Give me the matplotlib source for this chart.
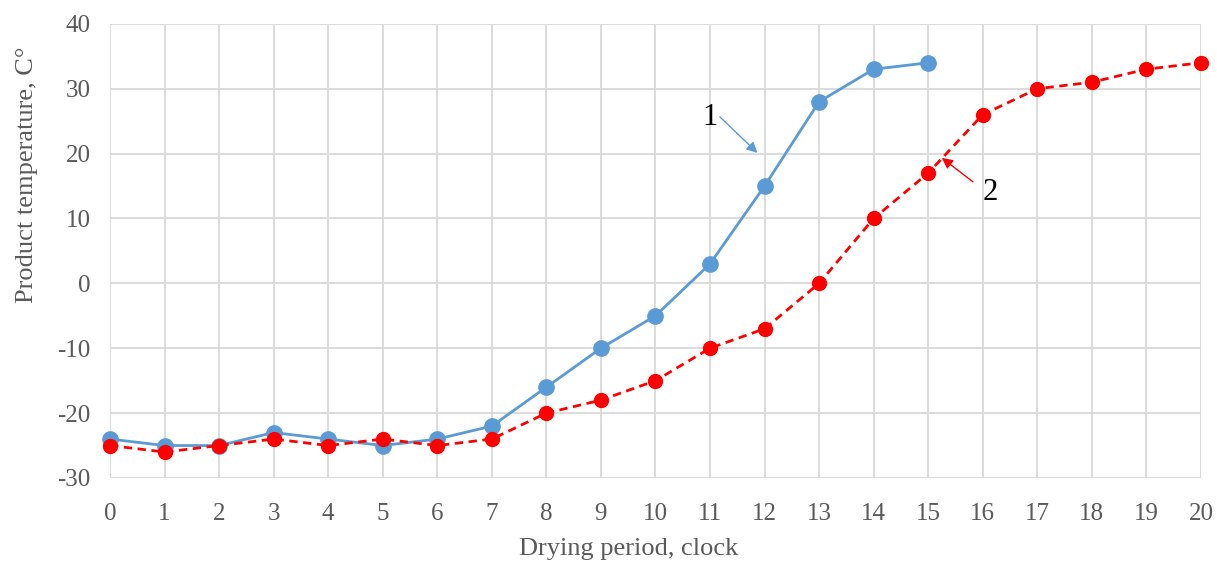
import matplotlib.pyplot as plt

# Data
hours_1 = list(range(0, 16))
temp_1 = [-24, -25, -25, -23, -24, -25, -24, -22, -16, -10, -5, 3, 15, 28, 33, 34]

hours_2 = list(range(0, 21))
temp_2 = [-25, -26, -25, -24, -25, -24, -25, -24, -20, -18, -15, -10, -7, 0, 10, 17,
          26, 30, 31, 33, 34]

plt.rcParams['font.family'] = ['Liberation Serif', 'DejaVu Serif']
plt.rcParams['axes.unicode_minus'] = False

fig = plt.figure(figsize=(12.17, 5.67), dpi=100)
ax = fig.add_axes([0.0904, 0.157, 0.8964, 0.801])

ax.plot(hours_1, temp_1, color='#5B9BD5', linewidth=2, marker='o',
        markersize=11, zorder=3, clip_on=False)
ax.plot(hours_2, temp_2, color='#FF0000', linewidth=2, linestyle=(0, (3, 2)),
        marker='o', markersize=10, zorder=4, clip_on=False)

ax.set_xlim(0, 20)
ax.set_ylim(-30, 40)
ax.set_xticks(range(0, 21))
ax.set_yticks(range(-30, 41, 10))
ax.grid(True, color='#D9D9D9', linewidth=1.3)
ax.set_axisbelow(True)
for s in ax.spines.values():
    s.set_visible(False)
ax.tick_params(length=0, labelsize=18, colors='#595959')
ax.tick_params(axis='x', pad=18)
ax.tick_params(axis='y', pad=14)

ax.set_xlabel("Drying period, clock", fontsize=19, color='#595959')
ax.xaxis.set_label_coords(0.475, -0.133)
ax.set_ylabel("Product temperature, C°", fontsize=19, color='#595959')
ax.yaxis.set_label_coords(-0.066, 0.667)

# Curve labels with arrows
ax.text(11.0, 25.5, "1", fontsize=22, ha='center', va='center')
ax.annotate("", xy=(11.87, 20.1), xytext=(11.18, 25.66),
            arrowprops=dict(arrowstyle='-|>', color='#5B9BD5', lw=1,
                            mutation_scale=16, shrinkA=0, shrinkB=0))
ax.text(16.13, 14.0, "2", fontsize=22, ha='center', va='center')
ax.annotate("", xy=(15.25, 19.34), xytext=(15.82, 15.64),
            arrowprops=dict(arrowstyle='-|>', color='#FF0000', lw=1,
                            mutation_scale=16, shrinkA=0, shrinkB=0))

fig.savefig("out.png", dpi=100)
